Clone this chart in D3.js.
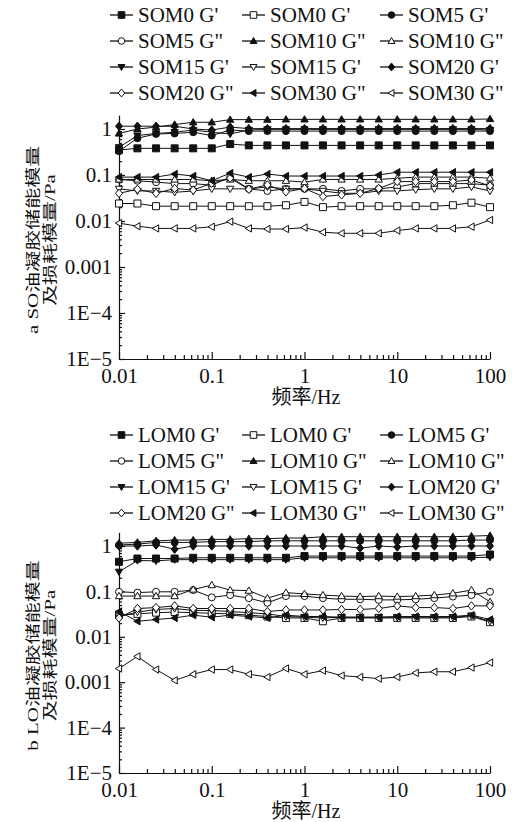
<!DOCTYPE html>
<html>
<head>
<meta charset="utf-8">
<script src="https://cdn.jsdelivr.net/npm/d3@7"></script>
<style>
body { margin: 0; background: #fff; }
svg text { font-family: "Liberation Serif", "Times New Roman", "Noto Sans CJK SC", serif; fill: #111; }
.cjk { font-family: "Liberation Serif", "Noto Sans CJK SC", serif; }
</style>
</head>
<body>
<svg id="chart" width="512" height="822"></svg>
<script>
// frequency sweep, 5 points per decade
var freq = [0.01, 0.0158, 0.0251, 0.0398, 0.0631, 0.1, 0.158, 0.251, 0.398, 0.631, 1,
            1.58, 2.51, 3.98, 6.31, 10, 15.8, 25.1, 39.8, 63.1, 100];

var xTickValues = [0.01, 0.1, 1, 10, 100];
var xTickLabels = ["0.01", "0.1", "1", "10", "100"];
var yTickValues = [1e-5, 1e-4, 1e-3, 0.01, 0.1, 1];
var yTickLabels = ["1E\u22125", "1E\u22124", "0.001", "0.01", "0.1", "1"];

var markerTypes = ["square-f", "square-o", "circle-f", "circle-o", "up-f", "up-o",
                   "down-f", "down-o", "diamond-f", "diamond-o", "left-f", "left-o"];

// panel a : SO oleogels
var soLabels = ["SOM0 G'", "SOM0 G'", "SOM5 G'", "SOM5 G\"", "SOM10 G\"", "SOM10 G\"",
                "SOM15 G'", "SOM15 G'", "SOM20 G'", "SOM20 G\"", "SOM30 G\"", "SOM30 G\""];
var som0Gp   = [0.35, 0.38, 0.38, 0.38, 0.38, 0.38, 0.47, 0.44, 0.44, 0.44, 0.44, 0.44, 0.44, 0.44, 0.44, 0.44, 0.44, 0.44, 0.44, 0.44, 0.44];
var som0Gpp  = [0.024, 0.024, 0.021, 0.021, 0.021, 0.021, 0.021, 0.021, 0.021, 0.022, 0.026, 0.020, 0.021, 0.021, 0.021, 0.021, 0.021, 0.021, 0.022, 0.025, 0.020];
var som5Gp   = [0.33, 0.63, 0.78, 0.8, 0.85, 0.72, 0.95, 0.9, 0.9, 0.9, 0.9, 0.9, 0.9, 0.9, 0.9, 0.9, 0.9, 0.9, 0.9, 0.9, 0.9];
var som5Gpp  = [0.08, 0.075, 0.07, 0.065, 0.065, 0.06, 0.09, 0.05, 0.045, 0.05, 0.05, 0.05, 0.045, 0.05, 0.05, 0.055, 0.065, 0.065, 0.065, 0.065, 0.06];
var som10Gp  = [0.8, 1.0, 1.1, 1.25, 1.4, 1.4, 1.6, 1.6, 1.6, 1.62, 1.62, 1.62, 1.62, 1.62, 1.62, 1.62, 1.62, 1.62, 1.62, 1.62, 1.65];
var som10Gpp = [0.08, 0.08, 0.08, 0.08, 0.08, 0.075, 0.08, 0.075, 0.075, 0.075, 0.07, 0.08, 0.08, 0.08, 0.08, 0.085, 0.09, 0.09, 0.09, 0.09, 0.085];
var som15Gp  = [0.4, 0.72, 0.8, 0.85, 0.95, 0.85, 0.78, 0.95, 0.98, 0.98, 0.98, 0.98, 0.98, 0.98, 0.98, 0.98, 0.98, 0.98, 0.98, 0.98, 0.95];
var som15Gpp = [0.05, 0.045, 0.045, 0.042, 0.045, 0.05, 0.05, 0.05, 0.055, 0.05, 0.05, 0.045, 0.04, 0.04, 0.045, 0.045, 0.048, 0.05, 0.05, 0.055, 0.045];
var som20Gp  = [1.15, 1.15, 1.15, 1.15, 1.0, 0.95, 1.1, 1.02, 1.02, 1.02, 1.02, 1.02, 1.02, 1.02, 1.02, 1.02, 1.02, 1.02, 1.02, 1.02, 1.02];
var som20Gpp = [0.04, 0.049, 0.04, 0.051, 0.047, 0.066, 0.085, 0.049, 0.061, 0.043, 0.051, 0.034, 0.037, 0.04, 0.051, 0.072, 0.072, 0.072, 0.072, 0.078, 0.058];
var som30Gp  = [0.09, 0.09, 0.09, 0.105, 0.095, 0.075, 0.11, 0.09, 0.105, 0.095, 0.095, 0.095, 0.095, 0.095, 0.1, 0.115, 0.115, 0.115, 0.115, 0.115, 0.115];
var som30Gpp = [0.009, 0.0077, 0.0069, 0.0069, 0.0069, 0.0075, 0.0097, 0.0069, 0.0067, 0.0067, 0.0072, 0.0057, 0.0054, 0.0054, 0.0054, 0.0062, 0.0069, 0.0069, 0.0069, 0.0075, 0.0105];

// panel b : LO oleogels
var loLabels = ["LOM0 G'", "LOM0 G'", "LOM5 G'", "LOM5 G\"", "LOM10 G\"", "LOM10 G\"",
                "LOM15 G'", "LOM15 G'", "LOM20 G'", "LOM20 G\"", "LOM30 G\"", "LOM30 G\""];
var lom0Gp   = [0.45, 0.53, 0.53, 0.53, 0.55, 0.55, 0.55, 0.55, 0.55, 0.55, 0.6, 0.6, 0.6, 0.6, 0.6, 0.6, 0.6, 0.6, 0.6, 0.6, 0.65];
var lom0Gpp  = [0.03, 0.032, 0.034, 0.035, 0.034, 0.033, 0.032, 0.03, 0.028, 0.026, 0.026, 0.022, 0.026, 0.026, 0.026, 0.026, 0.026, 0.026, 0.026, 0.028, 0.021];
var lom5Gp   = [1.05, 1.1, 1.2, 1.2, 1.2, 1.25, 1.25, 1.25, 1.3, 1.3, 1.3, 1.3, 1.3, 1.3, 1.3, 1.3, 1.3, 1.3, 1.3, 1.35, 1.35];
var lom5Gpp  = [0.098, 0.094, 0.098, 0.098, 0.107, 0.074, 0.083, 0.071, 0.056, 0.079, 0.079, 0.071, 0.067, 0.067, 0.065, 0.065, 0.067, 0.071, 0.077, 0.083, 0.098];
var lom10Gp  = [1.15, 1.2, 1.3, 1.35, 1.35, 1.4, 1.4, 1.45, 1.45, 1.5, 1.5, 1.6, 1.6, 1.6, 1.6, 1.6, 1.6, 1.6, 1.6, 1.65, 1.7];
var lom10Gpp = [0.079, 0.079, 0.079, 0.079, 0.11, 0.138, 0.107, 0.104, 0.071, 0.094, 0.088, 0.083, 0.079, 0.077, 0.079, 0.077, 0.079, 0.083, 0.091, 0.107, 0.059];
var lom15Gp  = [0.27, 0.48, 0.47, 0.5, 0.5, 0.5, 0.5, 0.5, 0.5, 0.5, 0.55, 0.55, 0.55, 0.55, 0.55, 0.55, 0.55, 0.55, 0.55, 0.55, 0.57];
var lom15Gpp = [0.028, 0.035, 0.04, 0.042, 0.038, 0.038, 0.036, 0.034, 0.032, 0.028, 0.027, 0.026, 0.027, 0.027, 0.027, 0.027, 0.027, 0.027, 0.027, 0.029, 0.022];
var lom20Gp  = [1.0, 1.0, 1.05, 0.85, 1.0, 1.0, 1.0, 1.0, 1.0, 1.0, 1.0, 1.0, 1.0, 0.9, 1.0, 0.95, 1.0, 1.0, 1.0, 1.0, 1.0];
var lom20Gpp = [0.026, 0.042, 0.044, 0.048, 0.042, 0.042, 0.042, 0.042, 0.036, 0.039, 0.039, 0.039, 0.04, 0.04, 0.042, 0.048, 0.044, 0.044, 0.042, 0.048, 0.048];
var lom30Gp  = [0.036, 0.022, 0.024, 0.026, 0.03, 0.027, 0.03, 0.028, 0.026, 0.03, 0.028, 0.028, 0.027, 0.027, 0.027, 0.028, 0.028, 0.028, 0.028, 0.03, 0.024];
var lom30Gpp = [0.002, 0.0037, 0.0019, 0.0011, 0.0015, 0.0019, 0.0019, 0.0015, 0.0013, 0.002, 0.0015, 0.0018, 0.0014, 0.0013, 0.0012, 0.0013, 0.0016, 0.0017, 0.0017, 0.0021, 0.0027];

var soSeries = [som0Gp, som0Gpp, som5Gp, som5Gpp, som10Gp, som10Gpp, som15Gp, som15Gpp, som20Gp, som20Gpp, som30Gp, som30Gpp];
var loSeries = [lom0Gp, lom0Gpp, lom5Gp, lom5Gpp, lom10Gp, lom10Gpp, lom15Gp, lom15Gpp, lom20Gp, lom20Gpp, lom30Gp, lom30Gpp];

var svg = d3.select("#chart");

// marker outline centred on 0,0
function markerPath(type, r) {
  var s = type.split("-")[0];
  if (s == "square") return "M" + (-r) + "," + (-r) + "h" + 2*r + "v" + 2*r + "h" + (-2*r) + "Z";
  if (s == "circle") return "M" + r + ",0A" + r + "," + r + " 0 1 1 " + (-r) + ",0A" + r + "," + r + " 0 1 1 " + r + ",0Z";
  if (s == "up") return "M0," + (-r*1.05) + "L" + r*1.05 + "," + r*0.75 + "L" + (-r*1.05) + "," + r*0.75 + "Z";
  if (s == "down") return "M0," + r*1.05 + "L" + r*1.05 + "," + (-r*0.75) + "L" + (-r*1.05) + "," + (-r*0.75) + "Z";
  if (s == "left") return "M" + (-r*1.05) + ",0L" + r*0.75 + "," + (-r*1.05) + "L" + r*0.75 + "," + r*1.05 + "Z";
  if (s == "diamond") return "M0," + (-r*1.2) + "L" + r + ",0L0," + r*1.2 + "L" + (-r) + ",0Z";
}
function markerFill(type) { return type.split("-")[1] == "f" ? "#111" : "#fff"; }

function drawPanel(cfg) {
  var g = svg.append("g");

  var x = d3.scaleLog().domain([0.01, 100]).range([119, 490]);
  var yTop = cfg.yOne - cfg.decade * Math.log10(2);
  var y = d3.scaleLog().domain([1e-5, 2]).range([cfg.yOne + 5 * cfg.decade, yTop]);
  var yBase = y(1e-5);

  // legend, 3 columns
  var colLine = [110, 242, 380];
  cfg.labels.forEach(function(lab, i) {
    var col = i % 3, row = Math.floor(i / 3);
    var ly = cfg.legendTop + row * 26;
    var lg = g.append("g");
    lg.append("line").attr("x1", colLine[col]).attr("x2", colLine[col] + 23)
      .attr("y1", ly).attr("y2", ly).attr("stroke", "#111").attr("stroke-width", 1.3);
    lg.append("path").attr("d", markerPath(markerTypes[i], 3.3))
      .attr("transform", "translate(" + (colLine[col] + 11.5) + "," + ly + ")")
      .attr("fill", markerFill(markerTypes[i])).attr("stroke", "#111").attr("stroke-width", 1);
    lg.append("text").attr("x", colLine[col] + 28).attr("y", ly).attr("dy", "0.35em")
      .style("font-size", "21px").text(lab);
  });

  // axes (ticks point inwards)
  var minorX = [];
  [0.01, 0.1, 1, 10].forEach(function(d) { for (var k = 2; k <= 9; k++) minorX.push(d * k); });
  var minorY = [];
  [1e-5, 1e-4, 1e-3, 0.01, 0.1, 1].forEach(function(d) { for (var k = 2; k <= 9; k++) if (d * k < 2) minorY.push(d * k); });

  g.append("g").attr("transform", "translate(0," + yBase + ")")
    .call(d3.axisBottom(x).tickValues(xTickValues).tickSize(-7).tickSizeOuter(0).tickPadding(9)
      .tickFormat(function(d, i) { return xTickLabels[i]; }));
  g.append("g").attr("transform", "translate(0," + yBase + ")")
    .call(d3.axisBottom(x).tickValues(minorX).tickSize(-4).tickSizeOuter(0).tickFormat(""))
    .select(".domain").remove();

  g.append("g").attr("transform", "translate(119,0)")
    .call(d3.axisLeft(y).tickValues(yTickValues).tickSize(-6).tickSizeOuter(0).tickPadding(7)
      .tickFormat(function(d, i) { return yTickLabels[i]; }));
  g.append("g").attr("transform", "translate(119,0)")
    .call(d3.axisLeft(y).tickValues(minorY).tickSize(-3).tickSizeOuter(0).tickFormat(""))
    .select(".domain").remove();

  g.selectAll(".tick text").style("font-size", "21px").attr("fill", "#111")
    .style("font-family", "'Liberation Serif', serif");
  g.selectAll(".domain, .tick line").attr("stroke", "#111").attr("stroke-width", 1.2);

  // axis titles
  g.append("text").attr("class", "cjk").attr("x", 306).attr("y", yBase + 38).attr("dy", "0.35em")
    .attr("text-anchor", "middle").style("font-size", "20px").text("频率/Hz");

  // two-line rotated title, squeezed across its lines like the original
  var yt = g.append("text").attr("class", "cjk")
    .attr("transform", "translate(33," + ((cfg.yOne + yBase) / 2 - 4) + ") rotate(-90) scale(1,0.7)")
    .attr("text-anchor", "middle").style("font-size", "21px");
  yt.append("tspan").attr("x", 0).attr("y", 0).attr("dy", "0.35em").text(cfg.title1);
  yt.append("tspan").attr("x", 0).attr("y", 24).attr("dy", "0.35em").text(cfg.title2);

  // series
  var line = d3.line().x(function(d, i) { return x(freq[i]); }).y(function(d) { return y(d); });
  cfg.series.forEach(function(vals, i) {
    g.append("path").datum(vals).attr("d", line)
      .attr("fill", "none").attr("stroke", "#111").attr("stroke-width", 1);
    g.append("g").selectAll("path").data(vals).enter().append("path")
      .attr("d", markerPath(markerTypes[i], 3.5))
      .attr("transform", function(d, j) { return "translate(" + x(freq[j]) + "," + y(d) + ")"; })
      .attr("fill", markerFill(markerTypes[i])).attr("stroke", "#111").attr("stroke-width", 1);
  });
}

drawPanel({ labels: soLabels, series: soSeries, legendTop: 15, yOne: 129, decade: 46,
            title1: "a SO油凝胶储能模量", title2: "及损耗模量/Pa" });
drawPanel({ labels: loLabels, series: loSeries, legendTop: 435, yOne: 546, decade: 45.4,
            title1: "b LO油凝胶储能模量", title2: "及损耗模量/Pa" });
</script>
</body>
</html>
